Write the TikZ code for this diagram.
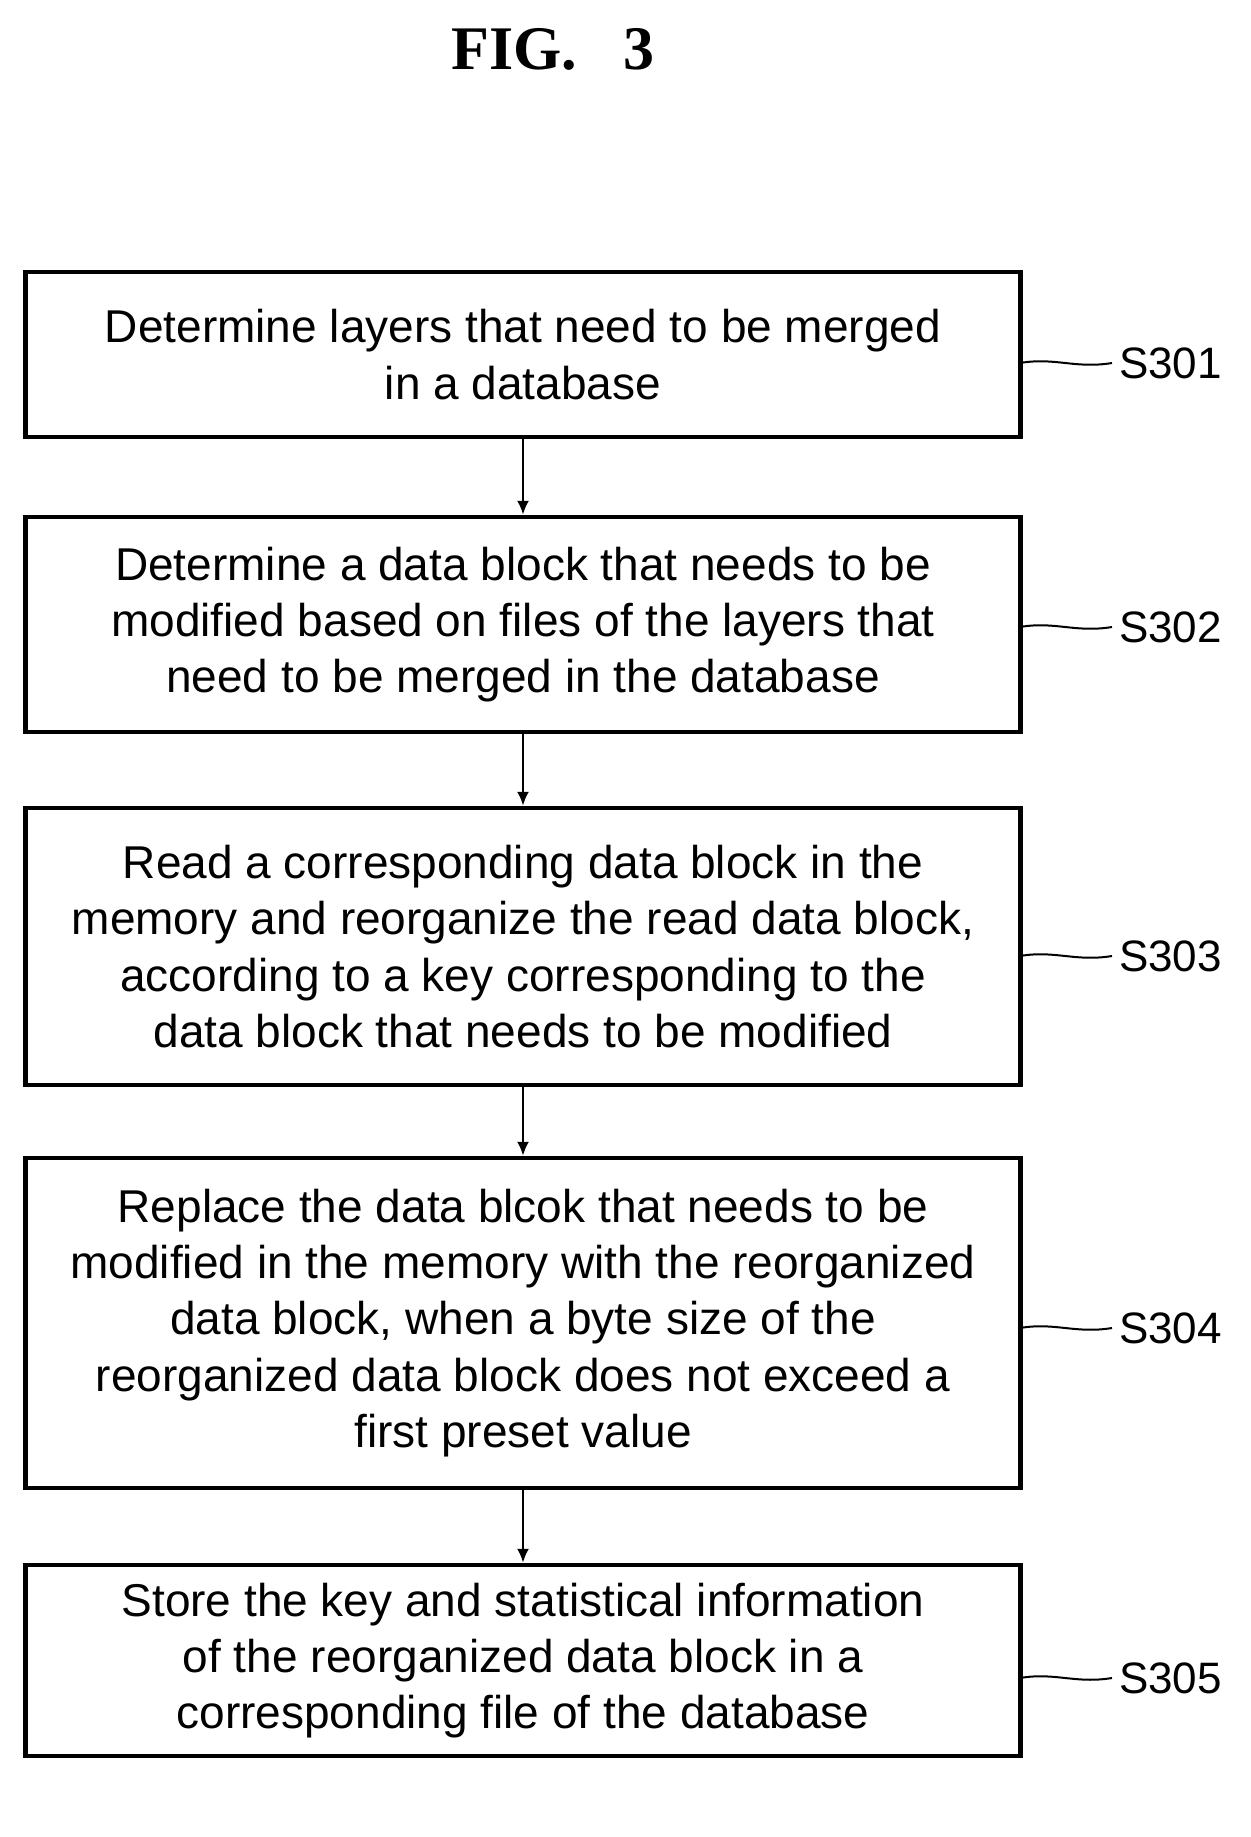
\documentclass[tikz,border=0pt]{standalone}
\usepackage{fontspec}
\setmainfont{Liberation Sans}
\newfontfamily\titlefont{Liberation Serif}
\begin{document}
\begin{tikzpicture}[x=0.5pt,y=-0.5pt,
  box/.style={draw,line width=2.2pt,minimum width=497.5pt,align=center,font=\fontsize{23}{28.2}\selectfont,inner sep=0pt},
  lab/.style={font=\fontsize{22}{25}\selectfont,anchor=west},
  arr/.style={line width=1.2pt,-{Latex[length=7pt,width=6pt]}}]
\usetikzlibrary{arrows.meta}
\useasboundingbox (0,0) rectangle (1250,1837);
\node[font=\titlefont\bfseries\fontsize{31}{34}\selectfont] (t) at (553,49) {FIG.\ \ \ 3};
\node[box,minimum height=82.5pt] (b1) at (523,354.5) {Determine layers that need to be merged\\in a database};
\node[box,minimum height=107.5pt] (b2) at (523,624.5) {Determine a data block that needs to be\\modified based on files of the layers that\\need to be merged in the database};
\node[box,minimum height=138.5pt] (b3) at (523,946.5) {Read a corresponding data block in the\\memory and reorganize the read data block,\\according to a key corresponding to the\\data block that needs to be modified};
\node[box,minimum height=165pt] (b4) at (523,1323) {Replace the data blcok that needs to be\\modified in the memory with the reorganized\\data block, when a byte size of the\\reorganized data block does not exceed a\\first preset value};
\node[box,minimum height=95.5pt] (b5) at (523,1660.5) {Store the key and statistical information\\of the reorganized data block in a\\corresponding file of the database};
\foreach \a/\b in {b1/b2,b2/b3,b3/b4,b4/b5} \draw[arr] (\a.south) -- (\b.north);
\foreach \n/\y/\t in {b1/363/S301,b2/627/S302,b3/956/S303,b4/1328/S304,b5/1678/S305}{
  \coordinate (c\n) at (1020,\y);
  \node[lab] (l\n) at (1112,\y) {\t};
  \draw[line width=1pt] (c\n) .. controls (1055,\y-6) and (1075,\y+6) .. (l\n.west);
}
\end{tikzpicture}
\end{document}
